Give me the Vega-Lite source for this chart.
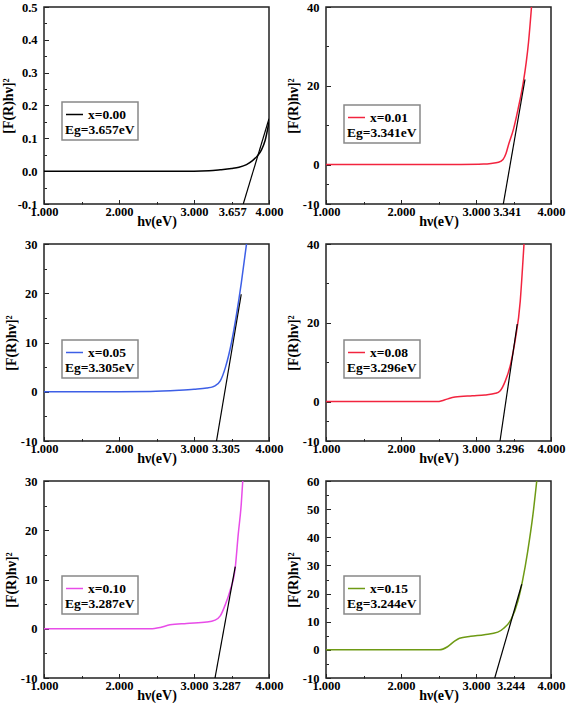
{
  "$schema": "https://vega.github.io/schema/vega-lite/v6.json",
  "background": "white",
  "padding": {"left": 0, "top": 0, "right": 0, "bottom": 0},
  "columns": 2,
  "spacing": {"row": 40, "column": 57},
  "bounds": "flush",
  "resolve": {"scale": {"color": "independent", "x": "independent", "y": "independent"}, "legend": {"color": "independent"}},
  "config": {
    "view": {"stroke": "#222", "strokeWidth": 1.5},
    "axis": {
      "domain": false, "grid": false, "ticks": true, "tickColor": "#222", "tickWidth": 1, "tickSize": -4.5,
      "labelFont": "Liberation Serif", "labelFontWeight": "bold", "labelFontSize": 12.5, "labelColor": "black",
      "titleFont": "Liberation Serif", "titleFontWeight": "bold", "titleFontSize": 14, "titleColor": "black",
      "labelFlush": false, "labelOverlap": false, "labelBound": false
    },
    "axisX": {"labelPadding": 6, "titlePadding": -4},
    "axisY": {"labelPadding": 11.5, "titlePadding": 2},
    "line": {"interpolate": "monotone"},
    "legend": {
      "titleOrient": "bottom", "titleFont": "Liberation Serif", "titleFontWeight": "bold", "titleFontSize": 13.5,
      "titleColor": "black", "titleAlign": "left", "titlePadding": 2,
      "labelFont": "Liberation Serif", "labelFontWeight": "bold", "labelFontSize": 13.5, "labelColor": "black",
      "symbolType": "stroke", "symbolSize": 289, "symbolStrokeWidth": 1.5, "labelOffset": 4,
      "strokeColor": "#888", "fillColor": "white", "padding": 3, "strokeWidth": 1.5
    }
  },
  "datasets": {
    "c1": [{"hv":1,"y":0},{"hv":2,"y":0},{"hv":3,"y":0},{"hv":3.2,"y":0.001},{"hv":3.35,"y":0.004},{"hv":3.5,"y":0.008},{"hv":3.6,"y":0.012},{"hv":3.7,"y":0.02},{"hv":3.78,"y":0.032},{"hv":3.85,"y":0.048},{"hv":3.9,"y":0.065},{"hv":3.95,"y":0.095},{"hv":4.0,"y":0.15}],
    "t1": [{"hv":3.657,"y":-0.1},{"hv":4.0,"y":0.16}],
    "c2": [{"hv":1,"y":0},{"hv":2,"y":0},{"hv":2.8,"y":0.05},{"hv":3.1,"y":0.15},{"hv":3.2,"y":0.3},{"hv":3.3,"y":0.6},{"hv":3.36,"y":1.3},{"hv":3.4,"y":2.8},{"hv":3.43,"y":4.8},{"hv":3.5,"y":9},{"hv":3.56,"y":14},{"hv":3.63,"y":20.8},{"hv":3.67,"y":26},{"hv":3.7,"y":31},{"hv":3.74,"y":40}],
    "t2": [{"hv":3.364,"y":-10},{"hv":3.653,"y":21.6}],
    "c3": [{"hv":1,"y":0},{"hv":2,"y":0},{"hv":2.42,"y":0.05},{"hv":2.8,"y":0.3},{"hv":3.0,"y":0.5},{"hv":3.17,"y":0.75},{"hv":3.25,"y":1.0},{"hv":3.29,"y":1.3},{"hv":3.35,"y":2.2},{"hv":3.42,"y":5},{"hv":3.5,"y":10},{"hv":3.57,"y":16},{"hv":3.63,"y":22},{"hv":3.7,"y":30}],
    "t3": [{"hv":3.3,"y":-10},{"hv":3.63,"y":19.8}],
    "c4": [{"hv":1,"y":0},{"hv":2,"y":0},{"hv":2.48,"y":0},{"hv":2.56,"y":0.3},{"hv":2.64,"y":0.8},{"hv":2.72,"y":1.15},{"hv":2.95,"y":1.5},{"hv":3.12,"y":1.7},{"hv":3.26,"y":2.1},{"hv":3.32,"y":2.7},{"hv":3.39,"y":5.2},{"hv":3.46,"y":9.4},{"hv":3.52,"y":15.3},{"hv":3.59,"y":25.5},{"hv":3.62,"y":33.9},{"hv":3.64,"y":40}],
    "t4": [{"hv":3.32,"y":-10},{"hv":3.55,"y":19.7}],
    "c5": [{"hv":1,"y":0},{"hv":2,"y":0},{"hv":2.42,"y":0},{"hv":2.55,"y":0.27},{"hv":2.68,"y":0.8},{"hv":2.9,"y":1.08},{"hv":3.17,"y":1.35},{"hv":3.28,"y":1.76},{"hv":3.35,"y":2.6},{"hv":3.42,"y":5.0},{"hv":3.48,"y":7.7},{"hv":3.55,"y":12.4},{"hv":3.59,"y":19.2},{"hv":3.63,"y":25.3},{"hv":3.65,"y":30}],
    "t5": [{"hv":3.28,"y":-10},{"hv":3.55,"y":12.6}],
    "c6": [{"hv":1,"y":0},{"hv":2,"y":0},{"hv":2.51,"y":0},{"hv":2.62,"y":1.1},{"hv":2.71,"y":3.0},{"hv":2.78,"y":4.1},{"hv":2.93,"y":4.8},{"hv":3.11,"y":5.4},{"hv":3.29,"y":6.3},{"hv":3.37,"y":7.7},{"hv":3.47,"y":10.9},{"hv":3.56,"y":17.4},{"hv":3.62,"y":24.5},{"hv":3.69,"y":35.1},{"hv":3.76,"y":48.2},{"hv":3.81,"y":60}],
    "t6": [{"hv":3.25,"y":-10},{"hv":3.61,"y":23.3}]
  },
  "concat": [
    {
      "width": 225, "height": 197,
      "resolve": {"axis": {"x": "independent", "y": "independent"}},
      "layer": [
        {"data": {"name": "c1"}, "mark": {"type": "line", "clip": true, "strokeWidth": 1.5},
         "encoding": {
           "x": {"field": "hv", "type": "quantitative", "scale": {"domain": [1, 4], "nice": false, "zero": false},
                 "axis": {"orient": "bottom", "title": "hν(eV)", "values": [1, 2, 3, 3.51, 4], "labelOverlap": false,
                          "labelExpr": "datum.value == 3.51 ? '3.657' : format(datum.value, '.3f')",
                          "tickOpacity": {"condition": {"test": "datum.value == 3.51", "value": 0}, "value": 1}}},
           "y": {"field": "y", "type": "quantitative", "scale": {"domain": [-0.1, 0.5], "nice": false, "zero": false},
                 "axis": {"orient": "left", "title": "[F(R)hν]²", "values": [-0.1, 0, 0.1, 0.2, 0.3, 0.4, 0.5], "labelOverlap": false,
                          "labelExpr": "(datum.value < 0 ? '-' : '') + format(abs(datum.value), '.1f')"}},
           "color": {"datum": "x=0.00", "type": "nominal", "scale": {"range": ["black"]},
                     "legend": {"title": "Eg=3.657eV", "orient": "none", "legendX": 18, "legendY": 95}}
         }},
        {"data": {"name": "t1"}, "mark": {"type": "line", "clip": true, "color": "black", "strokeWidth": 1.2, "interpolate": "linear"},
         "encoding": {
           "x": {"field": "hv", "type": "quantitative", "axis": {"orient": "bottom", "values": [1.5, 2.5, 3.5], "labels": false, "title": null, "tickSize": -2.5}},
           "y": {"field": "y", "type": "quantitative", "axis": {"orient": "left", "values": [-0.05, 0.05, 0.15, 0.25, 0.35, 0.45], "labels": false, "title": null, "tickSize": -2.5}}}}
      ]
    },
    {
      "width": 225, "height": 197,
      "resolve": {"axis": {"x": "independent", "y": "independent"}},
      "layer": [
        {"data": {"name": "c2"}, "mark": {"type": "line", "clip": true, "strokeWidth": 1.5},
         "encoding": {
           "x": {"field": "hv", "type": "quantitative", "scale": {"domain": [1, 4], "nice": false, "zero": false},
                 "axis": {"orient": "bottom", "title": "hν(eV)", "values": [1, 2, 3, 3.41, 4], "labelOverlap": false,
                          "labelExpr": "datum.value == 3.41 ? '3.341' : format(datum.value, '.3f')",
                          "tickOpacity": {"condition": {"test": "datum.value == 3.41", "value": 0}, "value": 1}}},
           "y": {"field": "y", "type": "quantitative", "scale": {"domain": [-10, 40], "nice": false, "zero": false},
                 "axis": {"orient": "left", "title": "[F(R)hν]²", "values": [-10, 0, 20, 40], "labelOverlap": false,
                          "labelExpr": "datum.value + ''"}},
           "color": {"datum": "x=0.01", "type": "nominal", "scale": {"range": ["#f2243f"]},
                     "legend": {"title": "Eg=3.341eV", "orient": "none", "legendX": 18, "legendY": 98}}
         }},
        {"data": {"name": "t2"}, "mark": {"type": "line", "clip": true, "color": "black", "strokeWidth": 1.2, "interpolate": "linear"},
         "encoding": {
           "x": {"field": "hv", "type": "quantitative", "axis": {"orient": "bottom", "values": [1.5, 2.5, 3.5], "labels": false, "title": null, "tickSize": -2.5}},
           "y": {"field": "y", "type": "quantitative", "axis": {"orient": "left", "values": [-5, 10, 30], "labels": false, "title": null, "tickSize": -2.5}}}}
      ]
    },
    {
      "width": 225, "height": 197,
      "resolve": {"axis": {"x": "independent", "y": "independent"}},
      "layer": [
        {"data": {"name": "c3"}, "mark": {"type": "line", "clip": true, "strokeWidth": 1.5},
         "encoding": {
           "x": {"field": "hv", "type": "quantitative", "scale": {"domain": [1, 4], "nice": false, "zero": false},
                 "axis": {"orient": "bottom", "title": "hν(eV)", "values": [1, 2, 3, 3.42, 4], "labelOverlap": false,
                          "labelExpr": "datum.value == 3.42 ? '3.305' : format(datum.value, '.3f')",
                          "tickOpacity": {"condition": {"test": "datum.value == 3.42", "value": 0}, "value": 1}}},
           "y": {"field": "y", "type": "quantitative", "scale": {"domain": [-10, 30], "nice": false, "zero": false},
                 "axis": {"orient": "left", "title": "[F(R)hν]²", "values": [-10, 0, 10, 20, 30], "labelOverlap": false,
                          "labelExpr": "datum.value + ''"}},
           "color": {"datum": "x=0.05", "type": "nominal", "scale": {"range": ["#3d5fe6"]},
                     "legend": {"title": "Eg=3.305eV", "orient": "none", "legendX": 18, "legendY": 96}}
         }},
        {"data": {"name": "t3"}, "mark": {"type": "line", "clip": true, "color": "black", "strokeWidth": 1.2, "interpolate": "linear"},
         "encoding": {
           "x": {"field": "hv", "type": "quantitative", "axis": {"orient": "bottom", "values": [1.5, 2.5, 3.5], "labels": false, "title": null, "tickSize": -2.5}},
           "y": {"field": "y", "type": "quantitative", "axis": {"orient": "left", "values": [-5, 5, 15, 25], "labels": false, "title": null, "tickSize": -2.5}}}}
      ]
    },
    {
      "width": 225, "height": 197,
      "resolve": {"axis": {"x": "independent", "y": "independent"}},
      "layer": [
        {"data": {"name": "c4"}, "mark": {"type": "line", "clip": true, "strokeWidth": 1.5},
         "encoding": {
           "x": {"field": "hv", "type": "quantitative", "scale": {"domain": [1, 4], "nice": false, "zero": false},
                 "axis": {"orient": "bottom", "title": "hν(eV)", "values": [1, 2, 3, 3.45, 4], "labelOverlap": false,
                          "labelExpr": "datum.value == 3.45 ? '3.296' : format(datum.value, '.3f')",
                          "tickOpacity": {"condition": {"test": "datum.value == 3.45", "value": 0}, "value": 1}}},
           "y": {"field": "y", "type": "quantitative", "scale": {"domain": [-10, 40], "nice": false, "zero": false},
                 "axis": {"orient": "left", "title": "[F(R)hν]²", "values": [-10, 0, 20, 40], "labelOverlap": false,
                          "labelExpr": "datum.value + ''"}},
           "color": {"datum": "x=0.08", "type": "nominal", "scale": {"range": ["#f2243f"]},
                     "legend": {"title": "Eg=3.296eV", "orient": "none", "legendX": 18, "legendY": 96}}
         }},
        {"data": {"name": "t4"}, "mark": {"type": "line", "clip": true, "color": "black", "strokeWidth": 1.2, "interpolate": "linear"},
         "encoding": {
           "x": {"field": "hv", "type": "quantitative", "axis": {"orient": "bottom", "values": [1.5, 2.5, 3.5], "labels": false, "title": null, "tickSize": -2.5}},
           "y": {"field": "y", "type": "quantitative", "axis": {"orient": "left", "values": [-5, 10, 30], "labels": false, "title": null, "tickSize": -2.5}}}}
      ]
    },
    {
      "width": 225, "height": 197,
      "resolve": {"axis": {"x": "independent", "y": "independent"}},
      "layer": [
        {"data": {"name": "c5"}, "mark": {"type": "line", "clip": true, "strokeWidth": 1.5},
         "encoding": {
           "x": {"field": "hv", "type": "quantitative", "scale": {"domain": [1, 4], "nice": false, "zero": false},
                 "axis": {"orient": "bottom", "title": "hν(eV)", "values": [1, 2, 3, 3.43, 4], "labelOverlap": false,
                          "labelExpr": "datum.value == 3.43 ? '3.287' : format(datum.value, '.3f')",
                          "tickOpacity": {"condition": {"test": "datum.value == 3.43", "value": 0}, "value": 1}}},
           "y": {"field": "y", "type": "quantitative", "scale": {"domain": [-10, 30], "nice": false, "zero": false},
                 "axis": {"orient": "left", "title": "[F(R)hν]²", "values": [-10, 0, 10, 20, 30], "labelOverlap": false,
                          "labelExpr": "datum.value + ''"}},
           "color": {"datum": "x=0.10", "type": "nominal", "scale": {"range": ["#e84ce8"]},
                     "legend": {"title": "Eg=3.287eV", "orient": "none", "legendX": 18, "legendY": 95}}
         }},
        {"data": {"name": "t5"}, "mark": {"type": "line", "clip": true, "color": "black", "strokeWidth": 1.2, "interpolate": "linear"},
         "encoding": {
           "x": {"field": "hv", "type": "quantitative", "axis": {"orient": "bottom", "values": [1.5, 2.5, 3.5], "labels": false, "title": null, "tickSize": -2.5}},
           "y": {"field": "y", "type": "quantitative", "axis": {"orient": "left", "values": [-5, 5, 15, 25], "labels": false, "title": null, "tickSize": -2.5}}}}
      ]
    },
    {
      "width": 225, "height": 197,
      "resolve": {"axis": {"x": "independent", "y": "independent"}},
      "layer": [
        {"data": {"name": "c6"}, "mark": {"type": "line", "clip": true, "strokeWidth": 1.5},
         "encoding": {
           "x": {"field": "hv", "type": "quantitative", "scale": {"domain": [1, 4], "nice": false, "zero": false},
                 "axis": {"orient": "bottom", "title": "hν(eV)", "values": [1, 2, 3, 3.46, 4], "labelOverlap": false,
                          "labelExpr": "datum.value == 3.46 ? '3.244' : format(datum.value, '.3f')",
                          "tickOpacity": {"condition": {"test": "datum.value == 3.46", "value": 0}, "value": 1}}},
           "y": {"field": "y", "type": "quantitative", "scale": {"domain": [-10, 60], "nice": false, "zero": false},
                 "axis": {"orient": "left", "title": "[F(R)hν]²", "values": [-10, 0, 10, 20, 30, 40, 50, 60], "labelOverlap": false,
                          "labelExpr": "datum.value + ''"}},
           "color": {"datum": "x=0.15", "type": "nominal", "scale": {"range": ["#6e9a14"]},
                     "legend": {"title": "Eg=3.244eV", "orient": "none", "legendX": 18, "legendY": 95}}
         }},
        {"data": {"name": "t6"}, "mark": {"type": "line", "clip": true, "color": "black", "strokeWidth": 1.2, "interpolate": "linear"},
         "encoding": {
           "x": {"field": "hv", "type": "quantitative", "axis": {"orient": "bottom", "values": [1.5, 2.5, 3.5], "labels": false, "title": null, "tickSize": -2.5}},
           "y": {"field": "y", "type": "quantitative", "axis": {"orient": "left", "values": [-5, 5, 15, 25, 35, 45, 55], "labels": false, "title": null, "tickSize": -2.5}}}}
      ]
    }
  ]
}
